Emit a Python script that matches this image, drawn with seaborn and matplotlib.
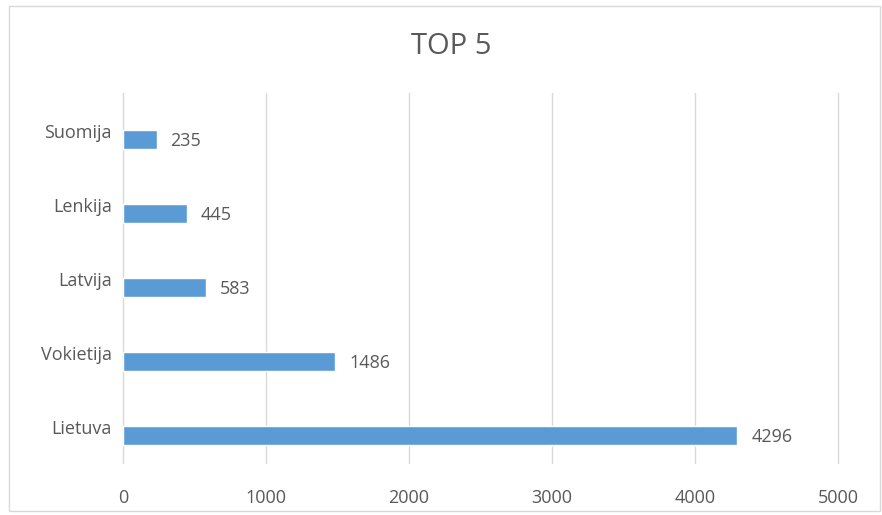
import pandas as pd
import seaborn as sns
import matplotlib.pyplot as plt
import matplotlib.transforms as mtransforms
from matplotlib.patches import Rectangle

countries = ['Suomija', 'Lenkija', 'Latvija', 'Vokietija', 'Lietuva']
values = [235, 445, 583, 1486, 4296]
ticks = [0, 1000, 2000, 3000, 4000, 5000]

df = pd.DataFrame({'country': countries, 'value': values})

sns.set_theme(style='white')
plt.rcParams['font.family'] = ['Open Sans', 'DejaVu Sans']
grey = '#595959'

fig = plt.figure(figsize=(8.82, 5.15), dpi=100)
ax = fig.add_axes([123 / 882, 1 - 463 / 515, (838 - 123) / 882, (463 - 93) / 515])

sns.barplot(data=df, x='value', y='country', color='#5B9BD5', saturation=1,
            width=0.26, ax=ax)

# bars sit a little below the band centres in the original
shift = 0.13
ax.set_ylim(4.5 - shift, -0.5 - shift)
ax.set_xlim(0, 5000)
ax.set_xticks(ticks)
ax.set_xticklabels([str(t) for t in ticks])
ax.xaxis.grid(True, color='#D9D9D9', linewidth=1)
for gl in ax.get_xgridlines():
    gl.set_clip_on(False)
ax.yaxis.grid(False)
ax.set_axisbelow(True)
for s in ax.spines.values():
    s.set_visible(False)
ax.tick_params(axis='x', length=0, pad=19, labelsize=13, labelcolor=grey)
ax.tick_params(axis='y', length=0, pad=8, labelsize=13, labelcolor=grey)
ax.set_xlabel('')
ax.set_ylabel('')

# category names sit slightly above the bars
up = mtransforms.ScaledTranslation(0, 6 / 72, fig.dpi_scale_trans)
for lab in ax.get_yticklabels():
    lab.set_transform(lab.get_transform() + up)

for i, v in enumerate(values):
    ax.annotate(str(v), (v, i), xytext=(10, -1), textcoords='offset points',
                va='center', ha='left', fontsize=13, color=grey)

fig.text(0.512, 1 - 47 / 515, 'TOP 5', ha='center', va='center', fontsize=21, color=grey)

fig.patches.append(Rectangle((9 / 882, 1 - 511 / 515), 871 / 882, 505 / 515,
                             transform=fig.transFigure, fill=False,
                             edgecolor='#D9D9D9', linewidth=1))

fig.savefig('out.png', dpi=100)
